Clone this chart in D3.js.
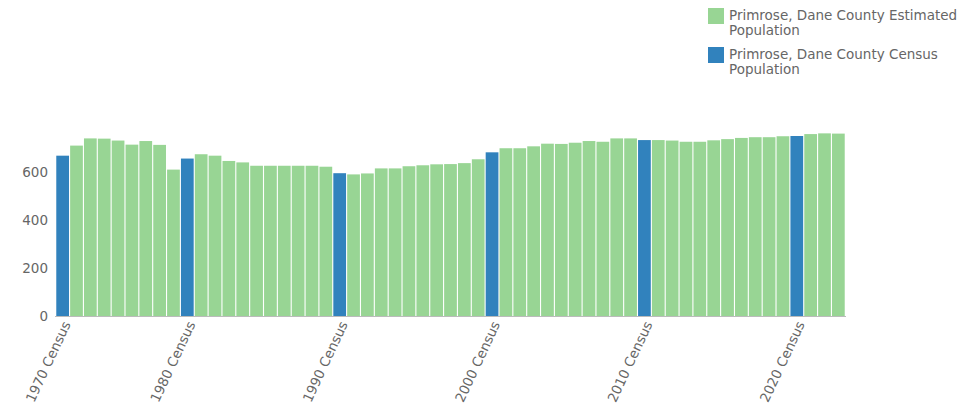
<!DOCTYPE html>
<html><head><meta charset="utf-8">
<script src="https://cdn.jsdelivr.net/npm/d3@7/dist/d3.min.js"></script>
<style>body{margin:0;background:#fff;font-family:"DejaVu Sans",sans-serif;}</style>
</head><body><svg id="c" width="973" height="412"></svg>
<script>
const categories = ["1970 Census","1972","1973","1974","1975","1976","1977","1978","1979",
 "1980 Census","1981","1982","1983","1984","1985","1986","1987","1988","1989","1990",
 "1990 Census","1991","1992","1993","1994","1995","1996","1997","1998","1999","2000",
 "2000 Census","2001","2002","2003","2004","2005","2006","2007","2008","2009","2010",
 "2010 Census","2011","2012","2013","2014","2015","2016","2017","2018","2019","2020",
 "2020 Census","2021","2022","2023"];
const values = [668,710,740,739,731,714,729,713,610,
 656,674,668,646,640,626,626,626,626,626,622,
 595,590,594,615,615,624,628,632,633,637,653,
 682,699,699,707,718,717,722,729,726,740,740,
 733,733,731,726,726,732,737,742,745,745,749,
 750,758,761,760];
const yTicks = [0,200,400,600];
const seriesNames = ["Primrose, Dane County Estimated Population","Primrose, Dane County Census Population"];
const colors = {est:"#98d594", census:"#3182bd"};

const svg = d3.select("#c");
const x = d3.scaleBand().domain(categories).range([56,845]).paddingInner(0.08).paddingOuter(0.02);
const y = d3.scaleLinear().domain([0,800]).range([316,124]);
const isCensus = c => c.indexOf("Census")>=0;

svg.append("g").selectAll("rect").data(categories).join("rect")
  .attr("x", d=>x(d)).attr("width", x.bandwidth())
  .attr("y", (d,i)=>y(values[i])).attr("height", (d,i)=>y(0)-y(values[i]))
  .attr("fill", d=>isCensus(d)?colors.census:colors.est);

// baseline
svg.append("line").attr("x1",55).attr("x2",846).attr("y1",y(0)+0.5).attr("y2",y(0)+0.5)
  .attr("stroke","#bbb").attr("stroke-width",1);

// y axis
const ya = svg.append("g").attr("transform","translate(55,0)")
  .call(d3.axisLeft(y).tickValues(yTicks).tickSize(0).tickPadding(7));
ya.select(".domain").remove();
ya.selectAll("text").attr("fill","#666").style("font-size","13.5px").style("font-family","DejaVu Sans");

// x axis
const xa = svg.append("g").attr("transform",`translate(0,${y(0)})`)
  .call(d3.axisBottom(x).tickValues(categories.filter(isCensus)).tickSize(0));
xa.select(".domain").remove();
xa.selectAll("text").attr("fill","#666").style("font-size","13.5px").style("font-family","DejaVu Sans")
  .attr("text-anchor","end").attr("dy","0.35em")
  .attr("transform","translate(4,6) rotate(-65)").attr("x",0).attr("y",0);

// legend
const leg = svg.append("g");
const items = [{c:colors.est, l:["Primrose, Dane County Estimated","Population"], y:8},
               {c:colors.census, l:["Primrose, Dane County Census","Population"], y:47}];
items.forEach(it=>{
  leg.append("rect").attr("x",708).attr("y",it.y).attr("width",16).attr("height",16).attr("fill",it.c);
  it.l.forEach((t,j)=>leg.append("text").attr("x",729).attr("y",it.y+12+j*15).text(t)
    .attr("fill","#666").style("font-size","13.5px"));
});
</script></body></html>
